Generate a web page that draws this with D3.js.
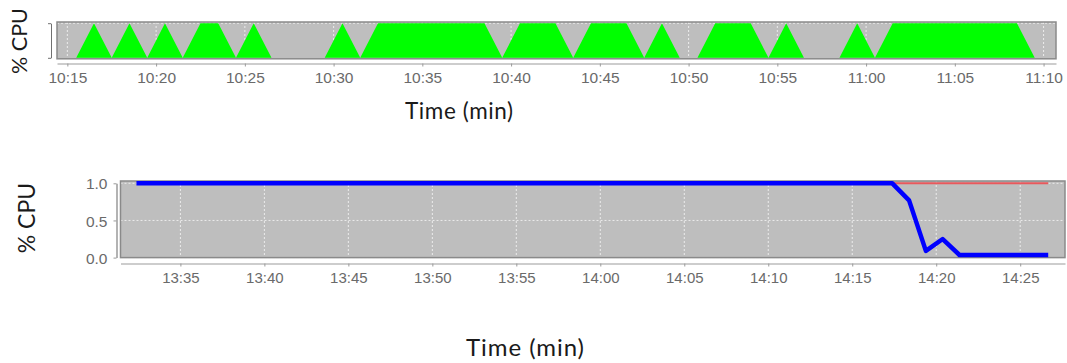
<!DOCTYPE html>
<html>
<head>
<meta charset="utf-8">
<script src="https://cdn.jsdelivr.net/npm/d3@7/dist/d3.min.js"></script>
<style>
  html, body { margin: 0; padding: 0; background: #fff; }
  svg { display: block; }
  .tick text { font-family: "Liberation Sans", Arial, sans-serif; fill: #6a6a6a; }
  .title { font-family: Lato, "Open Sans", sans-serif; fill: #1a1a1a; }
</style>
</head>
<body>
<svg id="chart" width="1067" height="363"></svg>
<script>
// ---- Upper panel: busy / idle CPU samples, one per minute ----
const busyTimes = [
  "10:15:30","10:16:30","10:17:30","10:18:30","10:19:30","10:20:30","10:21:30","10:22:30","10:23:30","10:24:30",
  "10:25:30","10:26:30","10:27:30","10:28:30","10:29:30","10:30:30","10:31:30","10:32:30","10:33:30","10:34:30",
  "10:35:30","10:36:30","10:37:30","10:38:30","10:39:30","10:40:30","10:41:30","10:42:30","10:43:30","10:44:30",
  "10:45:30","10:46:30","10:47:30","10:48:30","10:49:30","10:50:30","10:51:30","10:52:30","10:53:30","10:54:30",
  "10:55:30","10:56:30","10:57:30","10:58:30","10:59:30","11:00:30","11:01:30","11:02:30","11:03:30","11:04:30",
  "11:05:30","11:06:30","11:07:30","11:08:30","11:09:30"
];
const busyCpu = [
  0,1,0,1,0,1,0,1,1,0,
  1,0,0,0,0,1,0,1,1,1,
  1,1,1,1,0,1,1,1,0,1,
  1,1,0,1,0,0,1,1,1,0,
  1,0,0,0,1,0,1,1,1,1,
  1,1,1,1,0
];
const busyTicks = ["10:15","10:20","10:25","10:30","10:35","10:40","10:45","10:50","10:55","11:00","11:05","11:10"];

// ---- Lower panel: measured CPU (blue) against the full-load reference (red) ----
const usageTimes = [
  "13:32:23","13:33:23","13:34:23","13:35:23","13:36:23","13:37:23","13:38:23","13:39:23","13:40:23","13:41:23",
  "13:42:23","13:43:23","13:44:23","13:45:23","13:46:23","13:47:23","13:48:23","13:49:23","13:50:23","13:51:23",
  "13:52:23","13:53:23","13:54:23","13:55:23","13:56:23","13:57:23","13:58:23","13:59:23","14:00:23","14:01:23",
  "14:02:23","14:03:23","14:04:23","14:05:23","14:06:23","14:07:23","14:08:23","14:09:23","14:10:23","14:11:23",
  "14:12:23","14:13:23","14:14:23","14:15:23","14:16:23","14:17:23","14:18:23","14:19:23","14:20:23","14:21:23",
  "14:22:23","14:23:23","14:24:23","14:25:23","14:26:40"
];
const usageCpu = [
  1,1,1,1,1,1,1,1,1,1,
  1,1,1,1,1,1,1,1,1,1,
  1,1,1,1,1,1,1,1,1,1,
  1,1,1,1,1,1,1,1,1,1,
  1,1,1,1,1,1,0.77,0.09,0.25,0.035,
  0.035,0.035,0.035,0.035,0.035
];
const refTimes = ["14:17:23","14:18:23","14:19:23","14:20:23","14:21:23","14:22:23","14:23:23","14:24:23","14:25:23","14:26:40"];
const refCpu   = [1,1,1,1,1,1,1,1,1,1];
const usageTicks = ["13:35","13:40","13:45","13:50","13:55","14:00","14:05","14:10","14:15","14:20","14:25"];
const usageYTicks = [0, 0.5, 1.0];

const parseT = s => {
  const p = s.split(":").map(Number);
  return new Date(2020, 0, 1, p[0], p[1], p[2] || 0);
};

const svg = d3.select("#chart");

function panel(g, x, y, opts) {
  const [x0, x1] = x.range();
  const top = opts.top, bottom = opts.bottom;
  g.append("rect")
    .attr("x", x0).attr("y", top)
    .attr("width", x1 - x0).attr("height", bottom - top)
    .attr("fill", "#bebebe");
  // dashed white grid
  g.append("g").selectAll("line").data(opts.xTicks).join("line")
    .attr("x1", d => x(d)).attr("x2", d => x(d))
    .attr("y1", top).attr("y2", bottom)
    .attr("stroke", "#ececec").attr("stroke-width", 1).attr("stroke-dasharray", "2,2");
  g.append("g").selectAll("line").data(opts.yGrid).join("line")
    .attr("x1", x0).attr("x2", x1)
    .attr("y1", d => y(d)).attr("y2", d => y(d))
    .attr("stroke", "#ececec").attr("stroke-width", 1).attr("stroke-dasharray", "2,2");
}

function frame(g, x, top, bottom) {
  const [x0, x1] = x.range();
  g.append("rect")
    .attr("x", x0).attr("y", top)
    .attr("width", x1 - x0).attr("height", bottom - top)
    .attr("fill", "none").attr("stroke", "#8a8a8a").attr("stroke-width", 1.5);
}

function styleAxis(a) {
  a.select(".domain").attr("stroke", "#bdbdbd").attr("stroke-width", 1.5);
  a.selectAll(".tick line").attr("stroke", "#9a9a9a");
}

function title(g, label, size, width, transform) {
  const t = g.append("text").attr("class", "title")
    .attr("transform", transform)
    .attr("text-anchor", "middle").attr("font-size", size)
    .text(label);
  if (width) t.attr("textLength", width).attr("lengthAdjust", "spacing");
}

// ================= Upper chart =================
{
  const g = svg.append("g");
  const x = d3.scaleTime()
    .domain([parseT("10:14:25"), parseT("11:10:42")])
    .range([57, 1056]);
  const y = d3.scaleLinear().domain([0, 1]).range([57.8, 23.2]);
  const xTicks = busyTicks.map(parseT);
  const top = 22, bottom = 58.8;

  panel(g, x, y, { top, bottom, xTicks, yGrid: [1] });

  const data = busyTimes.map((t, i) => ({ t: parseT(t), v: busyCpu[i] }));
  g.append("path")
    .datum(data)
    .attr("fill", "#00ff00")
    .attr("d", d3.area().x(d => x(d.t)).y0(y(0)).y1(d => y(d.v)));

  frame(g, x, top, bottom);

  const ax = g.append("g")
    .attr("transform", "translate(0,63.5)")
    .call(d3.axisBottom(x).tickValues(xTicks).tickFormat(d3.timeFormat("%H:%M"))
      .tickSize(3).tickSizeOuter(0).tickPadding(5));
  styleAxis(ax);
  ax.selectAll(".tick text").attr("font-size", 15.5).attr("dy", "0.72em");

  const ay = g.append("g")
    .attr("transform", "translate(51,0)")
    .call(d3.axisLeft(y).tickValues([0, 1]).tickFormat(() => "").tickSize(3).tickSizeOuter(0));
  ay.select(".domain").attr("stroke", "#707070").attr("stroke-width", 1);
  ay.selectAll(".tick line").attr("stroke", "#707070");

  title(g, "Time (min)", 22.5, 108, "translate(459,119)");
  title(g, "% CPU", 21.5, null, "translate(27,41) rotate(-90)");
}

// ================= Lower chart =================
{
  const g = svg.append("g");
  const x = d3.scaleTime()
    .domain([parseT("13:31:26"), parseT("14:27:40")])
    .range([120.5, 1065]);
  const y = d3.scaleLinear().domain([0, 1]).range([257.6, 183.3]);
  const xTicks = usageTicks.map(parseT);
  const top = 181, bottom = 257.6;

  panel(g, x, y, { top, bottom, xTicks, yGrid: usageYTicks });
  frame(g, x, top, bottom);

  const line = d3.line().x(d => x(d.t)).y(d => y(d.v));
  g.append("path")
    .datum(refTimes.map((t, i) => ({ t: parseT(t), v: refCpu[i] })))
    .attr("fill", "none").attr("stroke", "#e8585c").attr("stroke-width", 2)
    .attr("d", line);
  g.append("path")
    .datum(usageTimes.map((t, i) => ({ t: parseT(t), v: usageCpu[i] })))
    .attr("fill", "none").attr("stroke", "#0000ff").attr("stroke-width", 4.5)
    .attr("stroke-linejoin", "round")
    .attr("d", line);

  const ax = g.append("g")
    .attr("transform", "translate(0,263.5)")
    .call(d3.axisBottom(x).tickValues(xTicks).tickFormat(d3.timeFormat("%H:%M"))
      .tickSize(3).tickSizeOuter(0).tickPadding(6));
  styleAxis(ax);
  ax.selectAll(".tick text").attr("font-size", 15).attr("dy", "0.72em");

  const ay = g.append("g")
    .attr("transform", "translate(116.5,0)")
    .call(d3.axisLeft(y).tickValues(usageYTicks).tickFormat(d3.format(".1f"))
      .tickSize(3).tickSizeOuter(0).tickPadding(6));
  ay.select(".domain").attr("stroke", "#9a9a9a").attr("stroke-width", 1.5);
  ay.selectAll(".tick line").attr("stroke", "#9a9a9a");
  ay.selectAll(".tick text").attr("font-size", 15.5).attr("dy", "0.36em");

  title(g, "Time (min)", 24, 118, "translate(525,356)");
  title(g, "% CPU", 23, null, "translate(35,218) rotate(-90)");
}
</script>
</body>
</html>
